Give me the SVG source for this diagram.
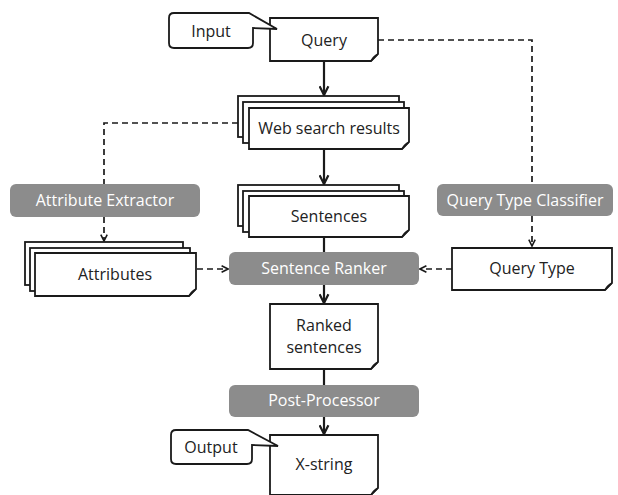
<svg xmlns="http://www.w3.org/2000/svg" width="618" height="495" viewBox="0 0 618 495">
<style>
.box{fill:#fff;stroke:#1a1a1a;stroke-width:1.8}
.proc{fill:#8c8c8c}
.t{font-family:"Open Sans","Liberation Sans",sans-serif;font-size:16px;fill:#222;text-anchor:middle;dominant-baseline:central}
.pt{font-family:"Open Sans","Liberation Sans",sans-serif;font-size:16px;fill:#fff;text-anchor:middle;dominant-baseline:central}
.solid{fill:none;stroke:#1a1a1a;stroke-width:2.2}
.dash{fill:none;stroke:#1a1a1a;stroke-width:1.7;stroke-dasharray:6,4}
.curl{fill:#bbb;stroke:#1a1a1a;stroke-width:1.2}
</style>
<defs>
<marker id="ah" viewBox="0 0 10 10" refX="9" refY="5" markerWidth="11" markerHeight="11" markerUnits="userSpaceOnUse" orient="auto">
<path d="M1,1 L9,5 L1,9" fill="none" stroke="#1a1a1a" stroke-width="2"/>
</marker>
<marker id="ad" viewBox="0 0 10 10" refX="9" refY="5" markerWidth="8" markerHeight="8" markerUnits="userSpaceOnUse" orient="auto">
<path d="M1,1 L9,5 L1,9" fill="none" stroke="#1a1a1a" stroke-width="2"/>
</marker>
</defs>

<g id="connectors">
<line class="solid" x1="324" y1="61" x2="324" y2="95" marker-end="url(#ah)"/>
<line class="solid" x1="324" y1="149" x2="324" y2="184" marker-end="url(#ah)"/>
<line class="solid" x1="324" y1="237" x2="324" y2="252"/>
<line class="solid" x1="324" y1="285" x2="324" y2="303" marker-end="url(#ah)"/>
<line class="solid" x1="324" y1="369" x2="324" y2="385"/>
<line class="solid" x1="324" y1="417" x2="324" y2="434" marker-end="url(#ah)"/>
<path class="dash" d="M238,123 H104 V184"/>
<path class="dash" d="M104,217 V241" marker-end="url(#ad)"/>
<path class="dash" d="M378,40 H532 V184"/>
<path class="dash" d="M532,216 V246" marker-end="url(#ad)"/>
<line class="dash" x1="197" y1="269" x2="228" y2="269" marker-end="url(#ad)"/>
<line class="dash" x1="452" y1="269" x2="420" y2="269" marker-end="url(#ad)"/>
</g>

<g id="query">
<path class="box" d="M270,18 H378 V54 L371,61 H270 Z"/>
<path class="curl" d="M371,61 Q373,56 378,54 Q374,58 371,61 Z"/>
<text class="t" x="324" y="40">Query</text>
</g>

<g id="input">
<path class="box" d="M174,13 H249 L277,29 L253,28 V43 Q253,48 248,48 H174 Q169,48 169,43 V18 Q169,13 174,13 Z"/>
<text class="t" x="211" y="31">Input</text>
</g>

<g id="web">
<rect class="box" x="238" y="96" width="161" height="41"/>
<rect class="box" x="243" y="102" width="161" height="41"/>
<path class="box" d="M249,108 H409 V142 L402,149 H249 Z"/>
<path class="curl" d="M402,149 Q404,144 409,142 Q405,146 402,149 Z"/>
<text class="t" x="329" y="128">Web search results</text>
</g>

<g id="sentences">
<rect class="box" x="238" y="185" width="161" height="41"/>
<rect class="box" x="243" y="191" width="161" height="41"/>
<path class="box" d="M249,196 H409 V230 L402,237 H249 Z"/>
<path class="curl" d="M402,237 Q404,232 409,230 Q405,234 402,237 Z"/>
<text class="t" x="329" y="216">Sentences</text>
</g>

<g id="attribute-extractor">
<rect class="proc" x="10" y="184" width="190" height="33" rx="6"/>
<text class="pt" x="105" y="200">Attribute Extractor</text>
</g>

<g id="attributes">
<rect class="box" x="25" y="242" width="158" height="43"/>
<rect class="box" x="30" y="248" width="160" height="43"/>
<path class="box" d="M35,253 H196 V289 L189,296 H35 Z"/>
<path class="curl" d="M189,296 Q191,291 196,289 Q192,293 189,296 Z"/>
<text class="t" x="115" y="274">Attributes</text>
</g>

<g id="sentence-ranker">
<rect class="proc" x="229" y="252" width="190" height="33" rx="6"/>
<text class="pt" x="324" y="268">Sentence Ranker</text>
</g>

<g id="query-type-classifier">
<rect class="proc" x="437" y="184" width="176" height="32" rx="6"/>
<text class="pt" x="525" y="200">Query Type Classifier</text>
</g>

<g id="query-type">
<path class="box" d="M452,248 H612 V283 L605,290 H452 Z"/>
<path class="curl" d="M605,290 Q607,285 612,283 Q608,287 605,290 Z"/>
<text class="t" x="532" y="268">Query Type</text>
</g>

<g id="ranked">
<path class="box" d="M270,304 H378 V362 L371,369 H270 Z"/>
<path class="curl" d="M371,369 Q373,364 378,362 Q374,366 371,369 Z"/>
<text class="t" x="324" y="325">Ranked</text>
<text class="t" x="324" y="347">sentences</text>
</g>

<g id="post-processor">
<rect class="proc" x="229" y="385" width="190" height="32" rx="6"/>
<text class="pt" x="324" y="400">Post-Processor</text>
</g>

<g id="xstring">
<path class="box" d="M270,435 H378 V488 L371,495 H270 Z"/>
<path class="curl" d="M371,495 Q373,490 378,488 Q374,492 371,495 Z"/>
<text class="t" x="324" y="464">X-string</text>
</g>

<g id="output">
<path class="box" d="M176,430 H248 L278,446 L252,445 V459 Q252,464 247,464 H176 Q171,464 171,459 V435 Q171,430 176,430 Z"/>
<text class="t" x="211" y="447">Output</text>
</g>
</svg>
